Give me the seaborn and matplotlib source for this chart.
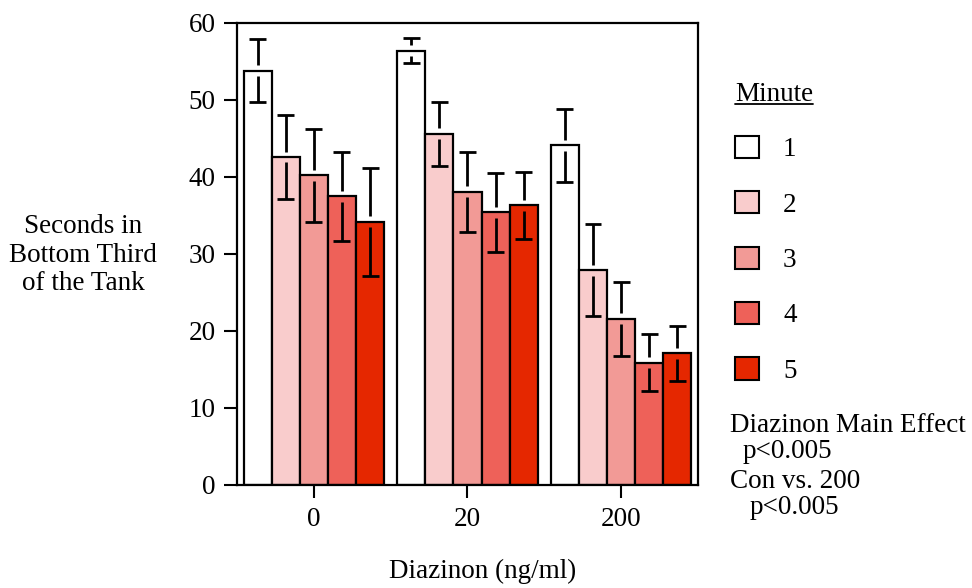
import numpy as np
import pandas as pd
import matplotlib
matplotlib.use("Agg")
import matplotlib.pyplot as plt
import seaborn as sns
from matplotlib.patches import Patch
from matplotlib.lines import Line2D

# values
doses = ["0", "20", "200"]
minutes = ["1", "2", "3", "4", "5"]
means = {
    "0":   [53.8, 42.6, 40.2, 37.5, 34.2],
    "20":  [56.4, 45.6, 38.1, 35.4, 36.3],
    "200": [44.1, 27.9, 21.6, 15.9, 17.1],
}
errs = {
    "0":   [4.1, 5.4, 6.0, 5.8, 7.0],
    "20":  [1.6, 4.2, 5.2, 5.1, 4.4],
    "200": [4.7, 6.0, 4.8, 3.7, 3.6],
}
colors = ["#FFFFFF", "#F9CCCC", "#F29A96", "#EE6159", "#E52700"]

rows = []
for d in doses:
    for i, m in enumerate(minutes):
        rows.append({"dose": d, "minute": m, "sec": means[d][i], "err": errs[d][i]})
df = pd.DataFrame(rows)

sns.set_style("ticks")
plt.rcParams["font.family"] = ["Liberation Serif", "DejaVu Serif"]
plt.rcParams["text.color"] = "black"
plt.rcParams["xtick.labelcolor"] = "black"
plt.rcParams["ytick.labelcolor"] = "black"
fs = 19.5

fig = plt.figure(figsize=(9.72, 5.88), dpi=100)
ax = fig.add_axes([0.2438, 0.1752, 0.7181 - 0.2438, 0.9609 - 0.1752])

sns.barplot(data=df, x="dose", y="sec", hue="minute", order=doses, hue_order=minutes,
            palette=colors, edgecolor="black", linewidth=1.6, width=0.915, gap=0,
            errorbar=None, legend=False, ax=ax, saturation=1)

# error bars with a small gap at the bar top, like the original
gap = 0.7
cap = 0.055
for m, cont in zip(minutes, ax.containers):
    for d, bar in zip(doses, cont):
        xc = bar.get_x() + bar.get_width() / 2
        y = df.loc[(df.dose == d) & (df.minute == m), "sec"].item()
        e = df.loc[(df.dose == d) & (df.minute == m), "err"].item()
        ax.vlines(xc, y + gap, y + e, color="black", lw=2, zorder=5)
        ax.vlines(xc, y - e, y - gap, color="black", lw=2, zorder=5)
        ax.hlines([y + e, y - e], xc - cap, xc + cap, color="black", lw=2, zorder=5)

ax.set_xlim(-0.5, 2.5)
ax.set_ylim(0, 60)
ax.set_yticks(range(0, 61, 10))
ax.set_xlabel("")
ax.set_ylabel("")
for s in ax.spines.values():
    s.set_linewidth(1.6)
    s.set_color("black")
ax.tick_params(axis="both", length=9.5, width=1.5, labelsize=fs, pad=6, color="black")

fig.text(83 / 972, 1 - 255 / 588, "Seconds in\nBottom Third\nof the Tank", ha="center",
         va="center", fontsize=fs, linespacing=1.18, multialignment="center")
fig.text(483 / 972, 1 - 571 / 588, "Diazinon (ng/ml)", ha="center", va="center", fontsize=fs)

handles = [Patch(facecolor=c, edgecolor="black", linewidth=1.5) for c in colors]
leg = fig.legend(handles, minutes, loc="upper left", bbox_to_anchor=(724 / 972, 1 - 71 / 588),
                 frameon=False, fontsize=fs, title="Minute",
                 title_fontsize=fs, handlelength=0.88, handleheight=0.88, labelspacing=1.07,
                 handletextpad=0.9, alignment="left", borderaxespad=0)

fig.text(730 / 972, 1 - 425 / 588, "Diazinon Main Effect", ha="left", va="center", fontsize=fs)
fig.text(743 / 972, 1 - 452 / 588, "p<0.005", ha="left", va="center", fontsize=fs)
fig.text(730 / 972, 1 - 482 / 588, "Con vs. 200", ha="left", va="center", fontsize=fs)
fig.text(750 / 972, 1 - 508 / 588, "p<0.005", ha="left", va="center", fontsize=fs)

# underline the legend title
fig.canvas.draw()
bb = leg.get_title().get_window_extent().transformed(fig.transFigure.inverted())
uy = bb.y0 + 0.12 * bb.height
fig.add_artist(Line2D([bb.x0, bb.x1], [uy, uy], transform=fig.transFigure,
                      color="black", lw=1.3))

fig.savefig("out.png", dpi=100)
